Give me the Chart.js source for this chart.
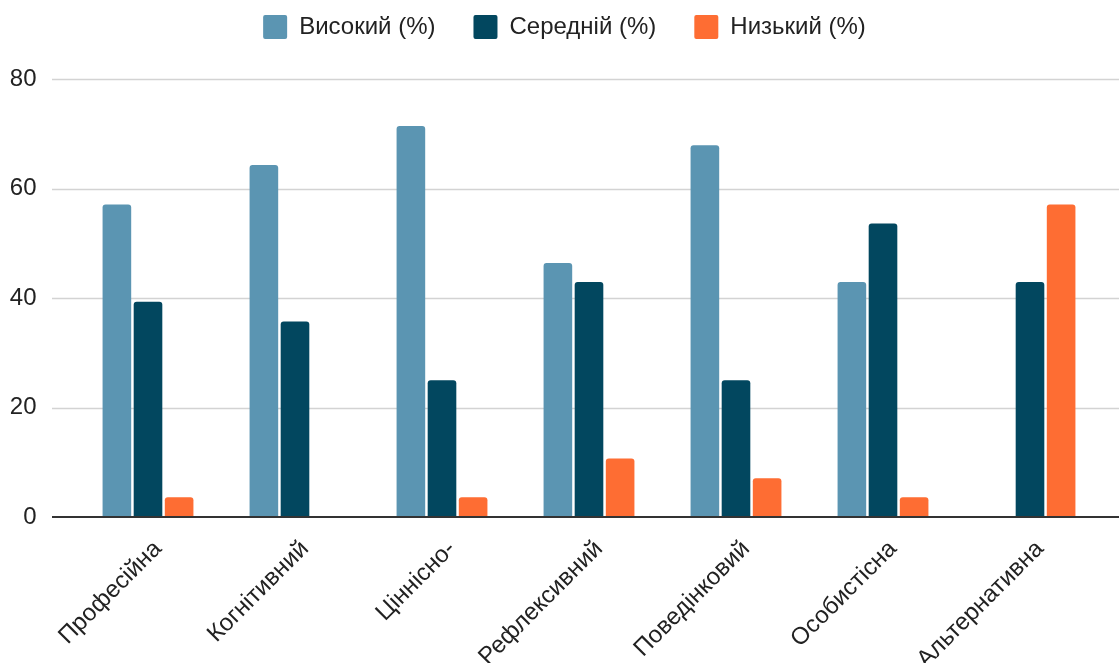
<!DOCTYPE html>
<html>
<head>
<meta charset="utf-8">
<script src="https://cdn.jsdelivr.net/npm/chart.js@4.4.1/dist/chart.umd.min.js"></script>
<style>
html,body{margin:0;padding:0;background:#fff;}
#wrap{width:1119px;height:663px;position:relative;}
</style>
</head>
<body>
<div id="wrap"><canvas id="c" width="1119" height="663"></canvas></div>
<script>
const categories = ["Професійна","Когнітивний","Ціннісно-","Рефлексивний","Поведінковий","Особистісна","Альтернативна"];
const seriesNames = ["Високий (%)","Середній (%)","Низький (%)"];
const high   = [57.1, 64.3, 71.4, 46.4, 67.9, 42.9, 0];
const medium = [39.3, 35.7, 25.0, 42.9, 25.0, 53.6, 42.9];
const low    = [3.6, 0, 3.6, 10.7, 7.1, 3.6, 57.1];
const yTicks = [0, 20, 40, 60, 80];

const colors = ["#5b95b2", "#02475f", "#fe6d33"];
const FONT = "'Liberation Sans', Arial, sans-serif";
const LEGEND_PAD = 38;
const LEGEND_H = 102;
const LEGEND_SHIFT = 12.75;

const gridPlugin = {
  id: 'extGrid',
  beforeLayout(chart) {
    const lg = chart.legend;
    if (lg && !lg.__patched) {
      const f = lg.fit;
      lg.fit = function() { f.call(this); this.height = LEGEND_H; };
      lg.__patched = true;
    }
  },
  afterLayout(chart) {
    const lg = chart.legend;
    if (lg) { lg.left += LEGEND_SHIFT; lg.right += LEGEND_SHIFT; }
  },
  beforeDatasetsDraw(chart) {
    const {ctx} = chart;
    const y = chart.scales.y;
    ctx.save();
    ctx.strokeStyle = '#d3d3d3';
    ctx.lineWidth = 1.3;
    y.ticks.forEach(t => {
      if (t.value === 0) return;
      const py = Math.round(y.getPixelForValue(t.value)) + 0.5;
      ctx.beginPath();
      ctx.moveTo(52, py);
      ctx.lineTo(chart.width, py);
      ctx.stroke();
    });
    ctx.restore();
  },
  afterDatasetsDraw(chart) {
    const {ctx} = chart;
    const y = chart.scales.y;
    const py = y.getPixelForValue(0);
    ctx.save();
    ctx.strokeStyle = '#333333';
    ctx.lineWidth = 2;
    ctx.beginPath();
    ctx.moveTo(52, py);
    ctx.lineTo(chart.width, py);
    ctx.stroke();
    ctx.restore();
  }
};

new Chart(document.getElementById('c'), {
  type: 'bar',
  data: {
    labels: categories,
    datasets: [
      {label: seriesNames[0], data: high, backgroundColor: colors[0]},
      {label: seriesNames[1], data: medium, backgroundColor: colors[1]},
      {label: seriesNames[2], data: low, backgroundColor: colors[2]}
    ]
  },
  options: {
    responsive: false,
    animation: false,
    layout: {padding: {top: 15 - LEGEND_PAD, right: 15.5, left: 0, bottom: 0}},
    datasets: {bar: {categoryPercentage: 0.635, barPercentage: 0.92, borderRadius: {topLeft: 3, topRight: 3}, borderSkipped: 'bottom'}},
    plugins: {
      legend: {
        position: 'top',
        labels: {
          font: {family: FONT, size: 24},
          color: '#222',
          boxWidth: 24,
          boxHeight: 24,
          padding: LEGEND_PAD,
          useBorderRadius: true,
          borderRadius: 2
        }
      },
      tooltip: {enabled: false}
    },
    scales: {
      x: {
        grid: {display: false, drawTicks: false},
        border: {display: false},
        ticks: {
          font: {family: FONT, size: 24},
          color: '#222',
          maxRotation: 45,
          minRotation: 45,
          autoSkip: false,
          padding: 18,
          labelOffset: 10
        },
        afterFit(scale) { scale.height = 146; }
      },
      y: {
        min: 0, max: 80,
        afterBuildTicks(scale) { scale.ticks = yTicks.map(v => ({value: v})); },
        grid: {display: false, drawTicks: false},
        border: {display: false},
        ticks: {
          font: {family: FONT, size: 24},
          color: '#222',
          padding: 38
        },
        afterFit(scale) { scale.width = 74.5; }
      }
    }
  },
  plugins: [gridPlugin]
});
</script>
</body>
</html>
